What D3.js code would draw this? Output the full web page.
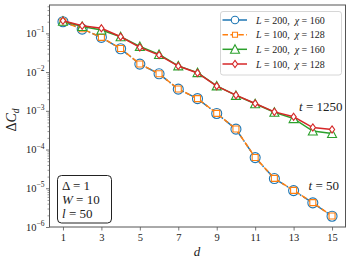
<!DOCTYPE html>
<html lang="en">
<head>
<meta charset="UTF-8">
<title>Delta C_d vs d</title>
<script src="https://d3js.org/d3.v7.min.js"></script>
<style>
    body { margin: 0; background: #fff; }
    svg text { font-family: "Liberation Serif", "DejaVu Serif", serif; fill: #222; }
</style>
</head>
<body>
<svg id="chart" width="353" height="264"></svg>
<script>
    // distances
    const distances = [1, 2, 3, 4, 5, 6, 7, 8, 9, 10, 11, 12, 13, 14, 15];
    // t = 50
    const blueL200 = [0.2, 0.129, 0.0788, 0.04, 0.0161, 0.00903, 0.00363, 0.00206, 0.000855, 0.000336, 6.2e-5, 1.78e-5, 8.7e-6, 4.2e-6, 1.9e-6];
    const orangeL100 = [0.198, 0.131, 0.079, 0.0405, 0.0162, 0.0091, 0.00365, 0.00207, 0.00086, 0.000338, 6.25e-5, 1.8e-5, 8.8e-6, 4.25e-6, 1.92e-6];
    // t = 1250
    const greenL200 = [0.205, 0.15, 0.122, 0.082, 0.046, 0.0285, 0.0145, 0.0097, 0.0044, 0.0025, 0.00152, 0.00092, 0.00063, 0.0003, 0.00026];
    const redL100 = [0.212, 0.157, 0.135, 0.0817, 0.0435, 0.0275, 0.0143, 0.0095, 0.00435, 0.00254, 0.00155, 0.00094, 0.0007, 0.00037, 0.00033];

    const xTicks = [1, 3, 5, 7, 9, 11, 13, 15];
    const yTicks = [1e-1, 1e-2, 1e-3, 1e-4, 1e-5, 1e-6];
    const yTickExps = ["\u22121", "\u22122", "\u22123", "\u22124", "\u22125", "\u22126"];
    const legendLabels = [["200", "160"], ["100", "128"], ["200", "160"], ["100", "128"]];
    const boxLines = [["\u0394", " = 1", false], ["W", " = 10", true], ["l", " = 50", true]];

    const svg = d3.select('#chart');
    const LEFT = 49.5, RIGHT = 345.5, TOP = 5, BOTTOM = 227;

    const x = d3.scaleLinear().domain([0.3, 15.7]).range([LEFT, RIGHT]);
    const y = d3.scaleLog().domain([1e-6, 0.54]).range([BOTTOM, TOP]);

    const series = [
        {vals: blueL200, color: '#1f77b4', dash: '9.6,2.4,1.5,2.4', marker: 'circle'},
        {vals: orangeL100, color: '#ff7f0e', dash: '5.5,2.4', marker: 'square'},
        {vals: greenL200, color: '#2ca02c', dash: null, marker: 'triangle'},
        {vals: redL100, color: '#d62728', dash: null, marker: 'diamond'}
    ];

    const markerPath = (type, small) => {
        if (type === 'circle') return d3.symbol().type(d3.symbolCircle).size(Math.PI * (small ? 14 : 25))();
        if (type === 'square') return small ? 'M-2.5,-2.5L2.5,-2.5L2.5,2.5L-2.5,2.5Z' : 'M-3,-3L3,-3L3,3L-3,3Z';
        if (type === 'triangle') return 'M0,-4.5L4.5,4L-4.5,4Z';
        return 'M0,-3.6L2.6,0L0,3.6L-2.6,0Z';
    };

    // axes
    const yMinor = [];
    for (let e = -6; e <= -1; e++) {
        for (let m = 1; m <= 9; m++) {
            const v = m * Math.pow(10, e);
            if (m > 1 && v <= 0.54) yMinor.push(v);
        }
    }
    svg.append('g')
        .attr('transform', `translate(${LEFT},0)`)
        .call(d3.axisLeft(y).tickValues(yMinor).tickSize(2).tickFormat(''))
        .call(g => g.select('.domain').remove())
        .selectAll('line').attr('stroke', '#555').attr('stroke-width', 0.6);

    const yAxis = svg.append('g')
        .attr('transform', `translate(${LEFT},0)`)
        .call(d3.axisLeft(y).tickValues(yTicks).tickSize(3.5).tickFormat(''));
    yAxis.select('.domain').remove();
    yAxis.selectAll('line').attr('stroke', '#555').attr('stroke-width', 0.8);

    yTicks.forEach((v, i) => {
        const t = svg.append('text')
            .attr('x', LEFT - 5)
            .attr('y', y(v) + 3.5)
            .attr('text-anchor', 'end')
            .style('font-size', '10.5px');
        t.append('tspan').text('10');
        t.append('tspan').attr('dy', -4.5).style('font-size', '7.5px').text(yTickExps[i]);
    });

    const xAxis = svg.append('g')
        .attr('transform', `translate(0,${BOTTOM})`)
        .call(d3.axisBottom(x).tickValues(xTicks).tickSize(3.5).tickPadding(3));
    xAxis.select('.domain').remove();
    xAxis.selectAll('line').attr('stroke', '#555').attr('stroke-width', 0.8);
    xAxis.selectAll('text')
        .style('font-family', '"Liberation Serif", serif')
        .style('font-size', '10.5px')
        .attr('fill', '#222');

    // frame
    svg.append('rect')
        .attr('x', LEFT).attr('y', TOP)
        .attr('width', RIGHT - LEFT).attr('height', BOTTOM - TOP)
        .attr('fill', 'none').attr('stroke', '#555').attr('stroke-width', 1);

    // lines and markers
    const line = d3.line().x((d, i) => x(distances[i])).y(d => y(d));
    series.forEach((s) => {
        svg.append('path')
            .datum(s.vals)
            .attr('d', line)
            .attr('fill', 'none')
            .attr('stroke', s.color)
            .attr('stroke-width', 1.5)
            .attr('stroke-dasharray', s.dash);
        svg.selectAll(null)
            .data(s.vals)
            .enter()
            .append('path')
            .attr('d', markerPath(s.marker, false))
            .attr('transform', (d, i) => `translate(${x(distances[i])},${y(d)})`)
            .attr('fill', s.marker === 'circle' ? 'none' : 'white')
            .attr('stroke', s.color)
            .attr('stroke-width', 1.1);
    });

    // legend
    const legend = svg.append('g');
    legend.append('rect')
        .attr('x', 220.5).attr('y', 11.5)
        .attr('width', 121).attr('height', 63.5)
        .attr('rx', 2.5)
        .attr('fill', 'white').attr('fill-opacity', 0.8)
        .attr('stroke', '#ccc').attr('stroke-width', 0.8);
    const rowY = [20, 34.7, 49.3, 64];
    series.forEach((s, i) => {
        legend.append('line')
            .attr('x1', 222.5).attr('x2', 247)
            .attr('y1', rowY[i]).attr('y2', rowY[i])
            .attr('stroke', s.color).attr('stroke-width', 1.5)
            .attr('stroke-dasharray', s.dash);
        legend.append('path')
            .attr('d', markerPath(s.marker, true))
            .attr('transform', `translate(235,${rowY[i]})`)
            .attr('fill', 'white')
            .attr('stroke', s.color).attr('stroke-width', 1.1);
        const t = legend.append('text')
            .attr('x', 256).attr('y', rowY[i] + 3.5)
            .style('font-size', '10px');
        t.append('tspan').style('font-style', 'italic').text('L');
        t.append('tspan').text(` = ${legendLabels[i][0]},\u2002`);
        t.append('tspan').style('font-style', 'italic').text('\u03c7');
        t.append('tspan').text(` = ${legendLabels[i][1]}`);
    });

    // annotations
    const ann = (xp, yp, val) => {
        const t = svg.append('text').attr('x', xp).attr('y', yp)
            .attr('text-anchor', 'end').style('font-size', '13px');
        t.append('tspan').style('font-style', 'italic').text('t');
        t.append('tspan').text(` = ${val}`);
    };
    ann(342.5, 111, '1250');
    ann(339, 189.5, '50');

    // parameter box
    svg.append('rect')
        .attr('x', 57.5).attr('y', 175.5)
        .attr('width', 54).attr('height', 47.5)
        .attr('rx', 4)
        .attr('fill', 'white').attr('stroke', '#222').attr('stroke-width', 1);
    boxLines.forEach((b, i) => {
        const t = svg.append('text')
            .attr('x', 62).attr('y', 189.5 + i * 14)
            .style('font-size', '13px');
        t.append('tspan').style('font-style', b[2] ? 'italic' : 'normal').text(b[0]);
        t.append('tspan').text(b[1]);
    });

    // axis labels
    const yl = svg.append('text')
        .attr('transform', 'translate(16,120) rotate(-90)')
        .attr('text-anchor', 'middle')
        .style('font-size', '14px');
    yl.append('tspan').text('\u0394');
    yl.append('tspan').style('font-style', 'italic').text('C');
    yl.append('tspan').attr('dy', 3).style('font-size', '9.5px').style('font-style', 'italic').text('d');

    svg.append('text')
        .attr('x', 197).attr('y', 256)
        .attr('text-anchor', 'middle')
        .style('font-size', '13px')
        .style('font-style', 'italic')
        .text('d');
</script>
</body>
</html>
